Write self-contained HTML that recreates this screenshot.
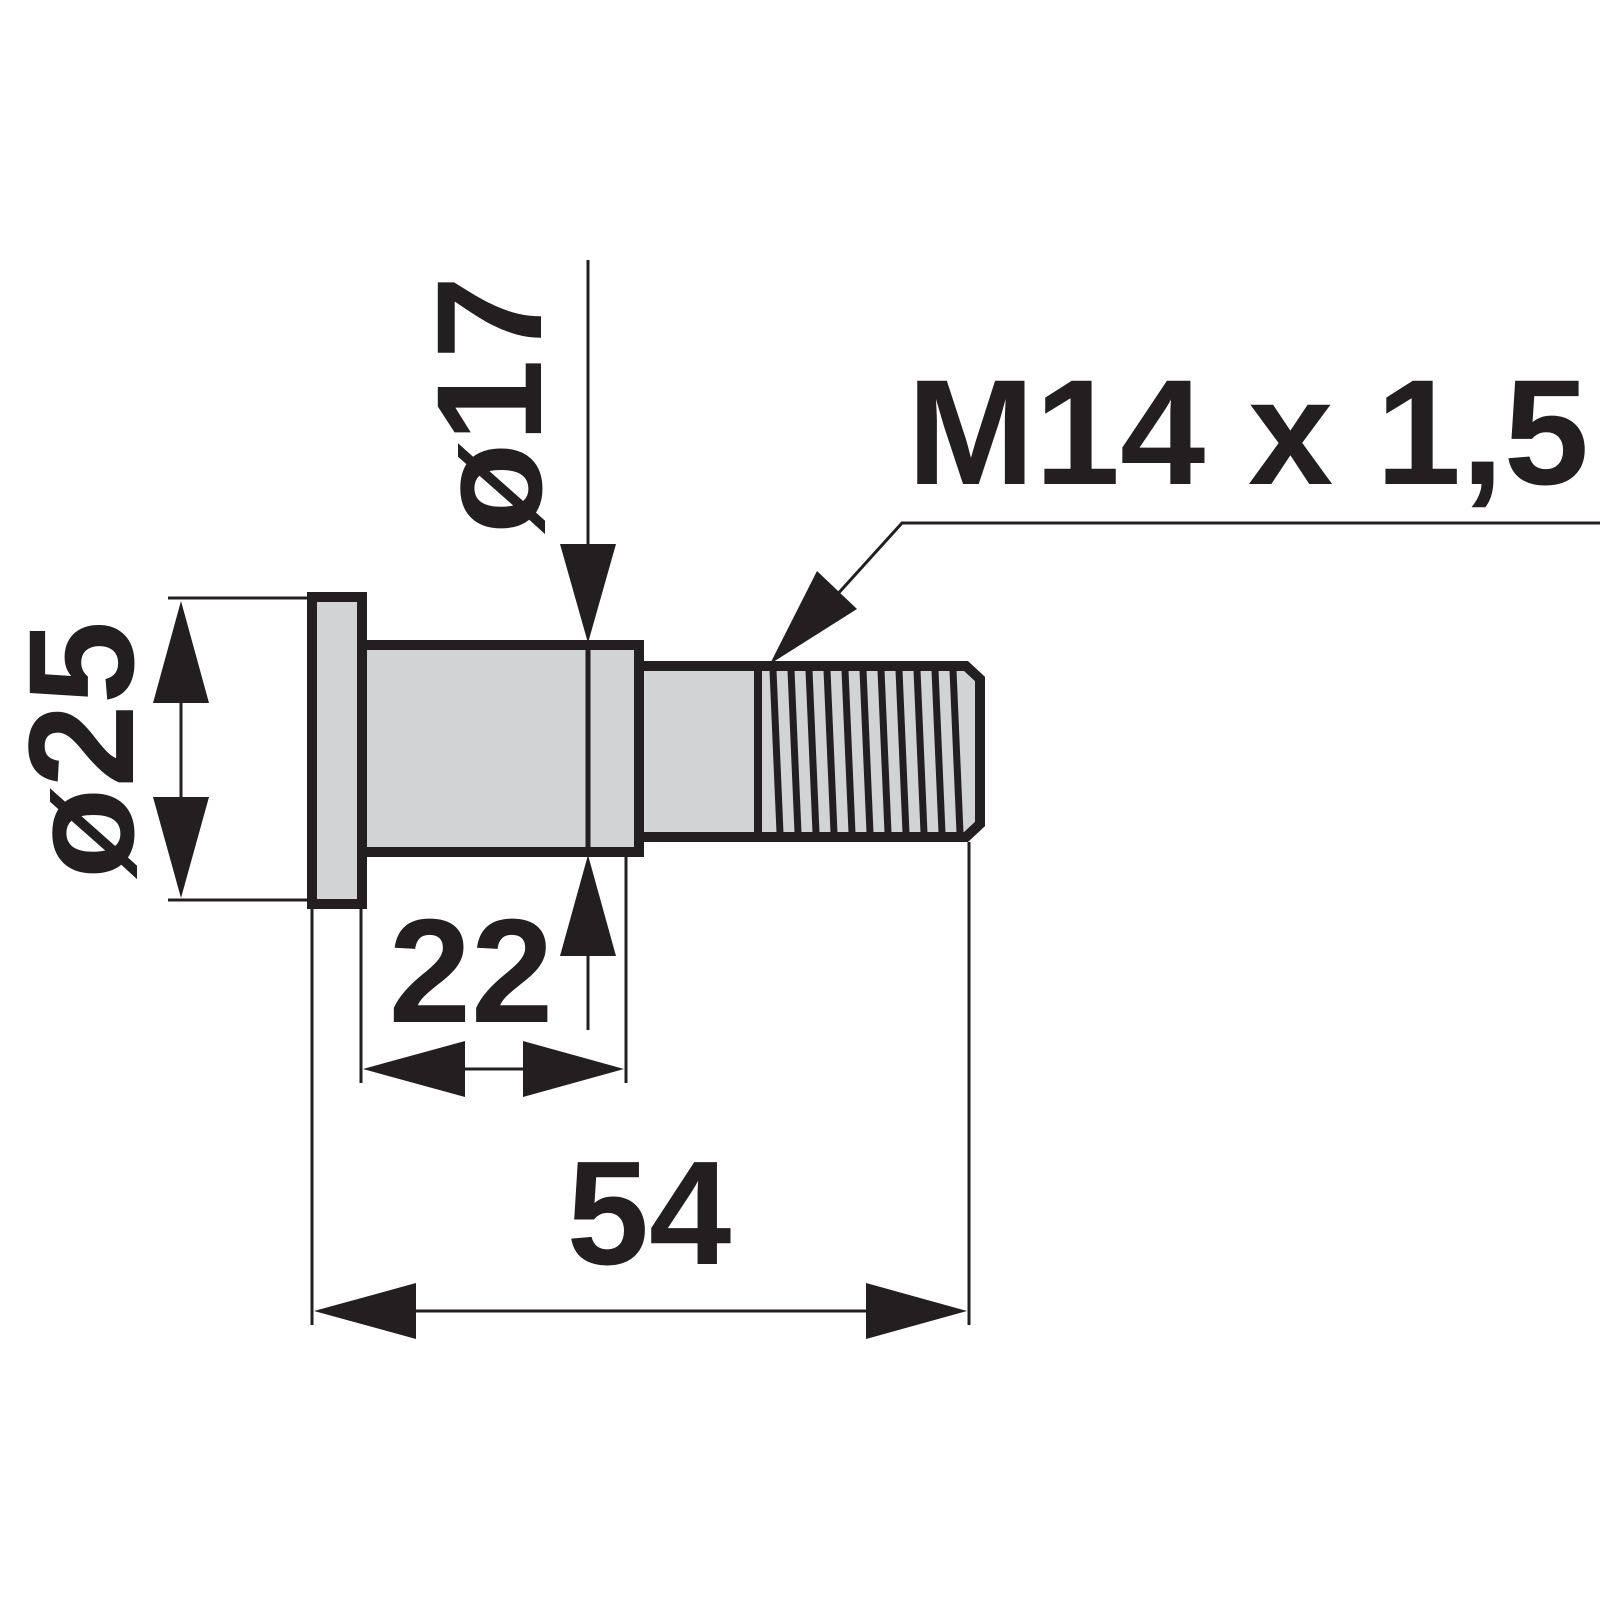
<!DOCTYPE html>
<html><head><style>html,body{margin:0;padding:0;background:#fff}svg{display:block}text{font-family:"Liberation Sans",Arial,sans-serif;font-weight:bold;fill:#231f20}</style></head>
<body>
<svg width="1600" height="1600" viewBox="0 0 1600 1600" xmlns="http://www.w3.org/2000/svg">
<g stroke="#231f20" fill="#d1d3d4" stroke-linejoin="miter">
<path d="M635 666 H966 L980 679 V824 L966 837 H635 Z" stroke-width="10"/>
<rect x="362" y="645" width="277" height="207" stroke-width="10"/>
<rect x="312" y="597" width="50" height="307" stroke-width="10"/>
</g>
<g stroke="#231f20" fill="none">
<line x1="588" y1="645" x2="588" y2="852" stroke-width="5"/>
<line x1="758" y1="670" x2="758" y2="833" stroke-width="8"/>
<g stroke-width="7">
<line x1="773" y1="670" x2="780" y2="833"/>
<line x1="791" y1="670" x2="798" y2="833"/>
<line x1="809" y1="670" x2="816" y2="833"/>
<line x1="827" y1="670" x2="834" y2="833"/>
<line x1="845" y1="670" x2="852" y2="833"/>
<line x1="863" y1="670" x2="870" y2="833"/>
<line x1="881" y1="670" x2="888" y2="833"/>
<line x1="899" y1="670" x2="906" y2="833"/>
<line x1="917" y1="670" x2="924" y2="833"/>
<line x1="935" y1="670" x2="942" y2="833"/>
<line x1="953" y1="670" x2="960" y2="833"/>
</g>
<g stroke-width="3">
<line x1="168" y1="598" x2="308" y2="598"/>
<line x1="168" y1="900" x2="308" y2="900"/>
<line x1="181" y1="700" x2="181" y2="800"/>
<line x1="588" y1="260" x2="588" y2="545"/>
<line x1="588" y1="955" x2="588" y2="1030"/>
<line x1="361" y1="906" x2="361" y2="1083"/>
<line x1="626" y1="857" x2="626" y2="1083"/>
<line x1="460" y1="1069" x2="530" y2="1069"/>
<line x1="312" y1="906" x2="312" y2="1325"/>
<line x1="969" y1="842" x2="969" y2="1325"/>
<line x1="415" y1="1311" x2="870" y2="1311"/>
<polyline points="1600,523 902,523 835,597"/>
</g>
</g>
<g fill="#231f20">
<polygon points="181,601 153,703 209,703"/>
<polygon points="181,898 153,797 209,797"/>
<polygon points="588,643 560,544 616,544"/>
<polygon points="588,855 560,956 616,956"/>
<polygon points="363,1069 465,1041 465,1097"/>
<polygon points="624,1069 523,1041 523,1097"/>
<polygon points="314,1311 416,1283 416,1339"/>
<polygon points="967,1311 866,1283 866,1339"/>
<polygon points="770,664 817,571 857,609"/>
</g>
<text x="0" y="0" font-size="150" text-anchor="middle" transform="translate(133,750) rotate(-90)">ø25</text>
<text x="0" y="0" font-size="150" text-anchor="middle" transform="translate(541,405) rotate(-90)">ø17</text>
<text x="471" y="1022" font-size="148" text-anchor="middle">22</text>
<text x="649" y="1264" font-size="148" text-anchor="middle">54</text>
<text x="907" y="484" font-size="150" textLength="682" lengthAdjust="spacingAndGlyphs">M14 x 1,5</text>
</svg>
</body></html>
